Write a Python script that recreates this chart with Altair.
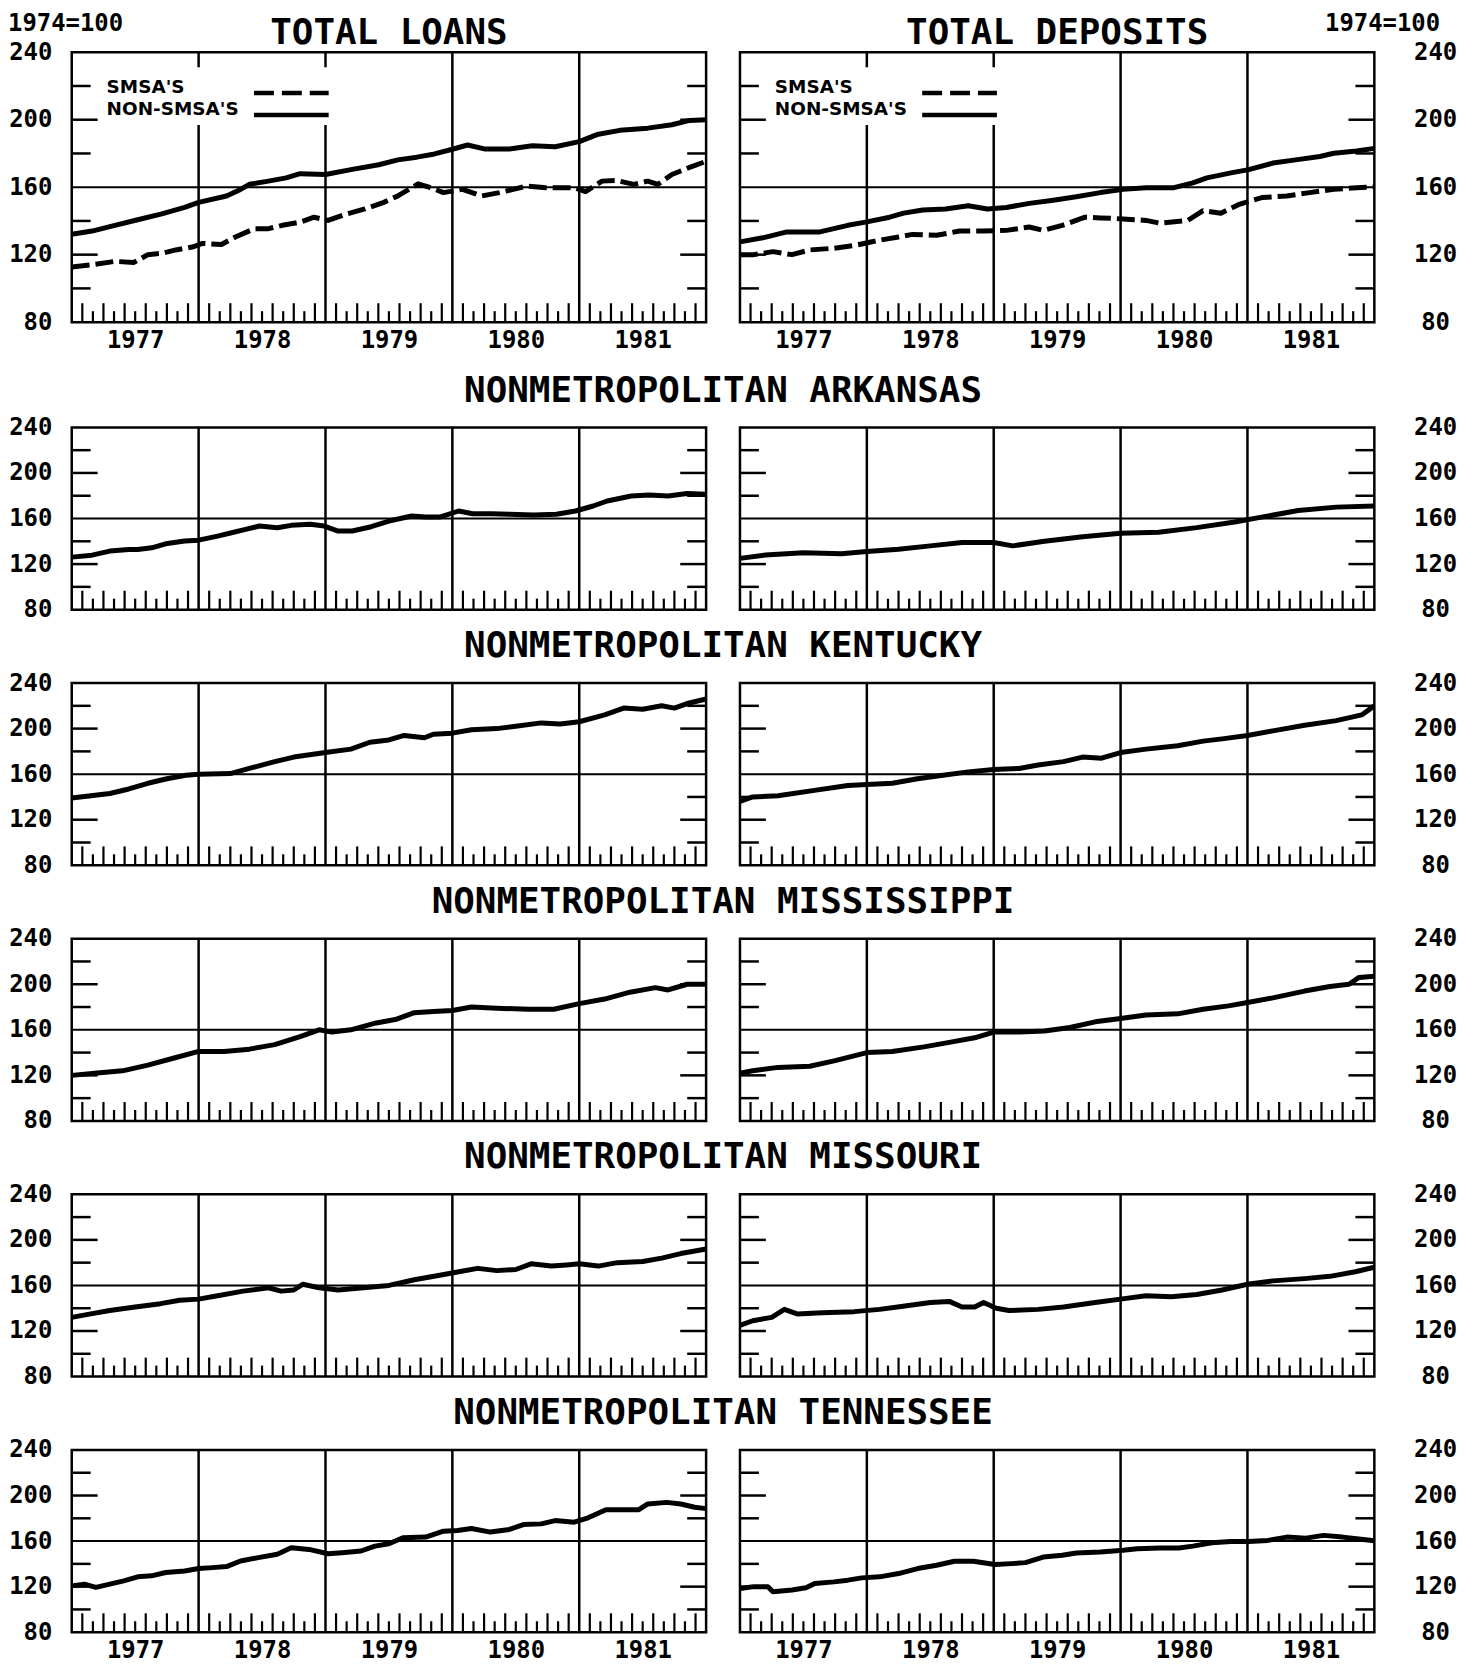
import altair as alt
import pandas as pd

# ------------------------------------------------------------------
# Values (index, 1974 = 100); t = decimal year
# ------------------------------------------------------------------
loans_non_t = [1977.00, 1977.16, 1977.34, 1977.52, 1977.71, 1977.89, 1978.00, 1978.22, 1978.33, 1978.40,
               1978.55, 1978.69, 1978.80, 1979.00, 1979.20, 1979.42, 1979.57, 1979.72, 1979.86, 1980.00,
               1980.12, 1980.26, 1980.45, 1980.63, 1980.81, 1981.00, 1981.14, 1981.32, 1981.54, 1981.73,
               1981.87, 1982.00]
loans_non_v = [132.1, 134, 137.4, 140.7, 144.2, 148, 151, 154.8, 158.7, 161.7,
               163.6, 165.5, 168, 167.5, 170.4, 173.3, 176.2, 177.8, 179.7, 182.5,
               185, 182.6, 182.6, 184.6, 184, 187, 191.2, 193.7, 195, 197,
               199.6, 200]
loans_smsa_t = [1977.00, 1977.16, 1977.34, 1977.49, 1977.60, 1977.71, 1977.82, 1977.96, 1978.03, 1978.18,
                1978.29, 1978.44, 1978.55, 1978.66, 1978.80, 1978.91, 1979.02, 1979.17, 1979.31, 1979.46,
                1979.57, 1979.68, 1979.73, 1979.83, 1979.93, 1980.08, 1980.23, 1980.37, 1980.48, 1980.59,
                1980.74, 1980.96, 1981.05, 1981.18, 1981.29, 1981.43, 1981.54, 1981.62, 1981.73, 1981.87,
                1982.00]
loans_smsa_v = [112.7, 114, 116, 115.4, 120, 120.8, 122.8, 124.7, 126.7, 126,
                130.5, 135.4, 135.4, 137.4, 139.3, 142.2, 140.3, 144.2, 147.1, 151,
                154.8, 159.7, 162, 159.7, 156.8, 158.7, 154.8, 156.8, 158.7, 160.7,
                159.7, 159.7, 157.4, 163.6, 164, 161.7, 163.6, 161.7, 167.5, 171.8,
                175.3]

deps_non_t = [1977.00, 1977.18, 1977.37, 1977.63, 1977.85, 1977.99, 1978.18, 1978.29, 1978.44, 1978.62,
              1978.80, 1978.95, 1979.10, 1979.28, 1979.47, 1979.65, 1979.84, 1980.02, 1980.20, 1980.42,
              1980.57, 1980.68, 1980.87, 1981.01, 1981.20, 1981.38, 1981.57, 1981.68, 1981.86, 1982.00]
deps_non_v = [127.6, 130, 133.5, 133.5, 137.4, 139.3, 142.2, 144.6, 146.5, 147.1,
              149, 147.1, 148, 150.4, 152.3, 154.3, 156.8, 158.7, 159.7, 159.7,
              162.6, 165.5, 168.5, 170.4, 174.3, 176.2, 178.2, 180.1, 181.5, 183]
deps_smsa_t = [1977.00, 1977.11, 1977.26, 1977.41, 1977.55, 1977.74, 1977.92, 1978.10, 1978.25, 1978.36,
               1978.55, 1978.73, 1978.91, 1979.10, 1979.28, 1979.39, 1979.54, 1979.72, 1979.84, 1980.02,
               1980.20, 1980.31, 1980.53, 1980.65, 1980.79, 1980.94, 1981.12, 1981.31, 1981.49, 1981.68,
               1981.86, 1982.00]
deps_smsa_v = [119.9, 120, 121.8, 120, 122.8, 123.8, 125.7, 128.6, 130.5, 132,
               131.5, 134, 134, 134.4, 136.4, 134.4, 137.4, 142.2, 141.8, 141.2,
               140.3, 138.7, 140.3, 146.1, 144.6, 150, 153.9, 154.8, 156.8, 158.7,
               159.7, 160.1]

ark_loans_t = [1977.00, 1977.16, 1977.30, 1977.45, 1977.52, 1977.63, 1977.74, 1977.89, 1978.00, 1978.15,
               1978.26, 1978.37, 1978.48, 1978.62, 1978.73, 1978.88, 1978.99, 1979.10, 1979.21, 1979.36,
               1979.50, 1979.68, 1979.79, 1979.90, 1980.05, 1980.16, 1980.31, 1980.45, 1980.64, 1980.82,
               1980.97, 1981.11, 1981.22, 1981.41, 1981.55, 1981.70, 1981.85, 1982.00]
ark_loans_v = [126.1, 127.8, 131.4, 132.8, 132.8, 134.3, 137.8, 140.2, 141, 144.6,
               147.5, 150.5, 153.4, 151.9, 154, 154.9, 153.4, 149, 149, 152.8,
               157.8, 162.2, 161.3, 161.3, 166.6, 164.2, 164.2, 163.7, 163.1, 163.7,
               166.6, 171, 175.4, 179.8, 180.7, 179.8, 181.9, 181.3]
ark_deps_t = [1977.00, 1977.20, 1977.50, 1977.80, 1978.00, 1978.25, 1978.50, 1978.75, 1979.00, 1979.15,
              1979.40, 1979.70, 1980.00, 1980.30, 1980.60, 1980.90, 1981.10, 1981.40, 1981.70, 1982.00]
ark_deps_v = [125, 128, 130, 129, 131, 133, 136, 139, 139, 136,
              140, 144, 147, 148, 152, 157, 161, 167, 170, 171]

ken_loans_t = [1977.00, 1977.15, 1977.30, 1977.45, 1977.60, 1977.75, 1977.90, 1978.00, 1978.25, 1978.40,
               1978.60, 1978.75, 1979.00, 1979.20, 1979.35, 1979.50, 1979.62, 1979.78, 1979.85, 1980.00,
               1980.15, 1980.35, 1980.50, 1980.70, 1980.85, 1981.00, 1981.20, 1981.35, 1981.50, 1981.65,
               1981.75, 1981.85, 1982.00]
ken_loans_v = [139, 141, 143, 147, 152, 156, 159, 160, 160.5, 165,
               171, 175, 179, 182, 188, 190, 194, 192, 195, 196,
               199, 200, 202, 205, 204, 206, 212, 218, 217, 220,
               218, 222, 226]
ken_deps_t = [1977.00, 1977.10, 1977.30, 1977.60, 1977.85, 1978.00, 1978.20, 1978.40, 1978.60, 1978.80,
              1979.00, 1979.20, 1979.35, 1979.55, 1979.70, 1979.85, 1980.00, 1980.20, 1980.45, 1980.65,
              1980.80, 1981.00, 1981.20, 1981.45, 1981.70, 1981.90, 1982.00]
ken_deps_v = [136, 140, 141, 146, 150, 151, 152, 156, 159, 162,
              164, 165, 168, 171, 175, 174, 179, 182, 185, 189,
              191, 194, 198, 203, 207, 212, 220]

mis_loans_t = [1977.00, 1977.20, 1977.40, 1977.60, 1977.80, 1978.00, 1978.20, 1978.40, 1978.60, 1978.80,
               1978.95, 1979.05, 1979.20, 1979.40, 1979.55, 1979.70, 1979.85, 1980.00, 1980.15, 1980.35,
               1980.60, 1980.80, 1981.00, 1981.20, 1981.40, 1981.60, 1981.70, 1981.85, 1982.00]
mis_loans_v = [120, 122, 124, 129, 135, 141, 141, 143, 147, 154,
               160, 158, 160, 166, 169, 175, 176, 177, 180, 179,
               178, 178, 183, 187, 193, 197, 195, 200, 200]
mis_deps_t = [1977.00, 1977.10, 1977.30, 1977.55, 1977.75, 1978.00, 1978.20, 1978.45, 1978.65, 1978.85,
              1979.00, 1979.20, 1979.40, 1979.60, 1979.80, 1980.00, 1980.20, 1980.45, 1980.65, 1980.85,
              1981.00, 1981.20, 1981.45, 1981.65, 1981.80, 1981.88, 1982.00]
mis_deps_v = [122, 124, 127, 128, 133, 140, 141, 145, 149, 153,
              158, 158, 159, 162, 167, 170, 173, 174, 178, 181,
              184, 188, 194, 198, 200, 206, 207]

mo_loans_t = [1977.00, 1977.15, 1977.30, 1977.50, 1977.70, 1977.85, 1978.00, 1978.15, 1978.35, 1978.55,
              1978.65, 1978.75, 1978.82, 1978.95, 1979.10, 1979.30, 1979.50, 1979.70, 1979.90, 1980.05,
              1980.20, 1980.35, 1980.50, 1980.62, 1980.78, 1980.90, 1981.00, 1981.15, 1981.30, 1981.50,
              1981.65, 1981.80, 1982.00]
mo_loans_v = [132, 135, 138, 141, 144, 147, 148, 151, 155, 158,
              155, 156, 161, 158, 156, 158, 160, 165, 169, 172,
              175, 173, 174, 179, 177, 178, 179, 177, 180, 181,
              184, 188, 192]
mo_deps_t = [1977.00, 1977.10, 1977.25, 1977.35, 1977.45, 1977.65, 1977.90, 1978.10, 1978.30, 1978.50,
             1978.65, 1978.75, 1978.85, 1978.92, 1979.02, 1979.12, 1979.35, 1979.55, 1979.80, 1980.00,
             1980.20, 1980.40, 1980.60, 1980.80, 1981.00, 1981.20, 1981.45, 1981.65, 1981.85, 1982.00]
mo_deps_v = [125, 129, 132, 139, 135, 136, 137, 139, 142, 145,
             146, 141, 141, 145, 140, 138, 139, 141, 145, 148,
             151, 150, 152, 156, 161, 164, 166, 168, 172, 176]

ten_loans_t = [1977.00, 1977.10, 1977.19, 1977.30, 1977.41, 1977.52, 1977.63, 1977.74, 1977.89, 1978.00,
               1978.11, 1978.22, 1978.33, 1978.47, 1978.62, 1978.73, 1978.87, 1979.02, 1979.13, 1979.28,
               1979.39, 1979.50, 1979.61, 1979.79, 1979.93, 1980.04, 1980.15, 1980.30, 1980.45, 1980.56,
               1980.70, 1980.81, 1980.96, 1981.07, 1981.21, 1981.36, 1981.47, 1981.54, 1981.69, 1981.80,
               1981.91, 1982.00]
ten_loans_v = [120.7, 122.2, 119.3, 122.2, 125.1, 128.6, 129.5, 132.4, 133.8, 135.9,
               136.7, 137.6, 142.5, 145.5, 148.4, 154.2, 152.7, 148.9, 149.8, 151.3,
               155.6, 157.7, 162.9, 163.5, 168.7, 169.3, 171.1, 167.9, 170.2, 174.5,
               175.1, 178, 176.6, 180.4, 187.6, 187.6, 187.6, 192.6, 194, 192.6,
               189.7, 188.5]
ten_deps_t = [1977.00, 1977.11, 1977.22, 1977.26, 1977.41, 1977.52, 1977.59, 1977.74, 1977.85, 1977.96,
              1978.10, 1978.25, 1978.40, 1978.55, 1978.69, 1978.84, 1979.01, 1979.14, 1979.25, 1979.39,
              1979.54, 1979.65, 1979.84, 1980.02, 1980.13, 1980.31, 1980.46, 1980.57, 1980.72, 1980.87,
              1981.01, 1981.16, 1981.31, 1981.46, 1981.60, 1981.75, 1981.86, 1982.00]
ten_deps_v = [118.4, 120, 120, 115.5, 117, 119, 122.8, 124.2, 125.7, 127.7,
              128.6, 131.5, 135.9, 138.8, 142.3, 142.3, 139.4, 140.2, 141.1, 146,
              147.5, 149.5, 150.4, 151.9, 153.3, 153.9, 153.9, 155.6, 158.6, 159.7,
              159.7, 160.6, 163.5, 162.6, 165, 163.5, 162, 160.3]

# axis / tick label values
y_labels = [80, 120, 160, 200, 240]
y_ticks_short = [100, 140, 180, 220]
y_ticks_long = [120, 200]
year_lines = [1978, 1979, 1980, 1981]
year_mids = [1977.5, 1978.5, 1979.5, 1980.5, 1981.5]
month_ticks_long = [1977 + k / 12 for k in range(1, 60) if k % 12 != 0 and k % 2 == 1]
month_ticks_short = [1977 + k / 12 for k in range(1, 60) if k % 12 != 0 and k % 2 == 0]

row_titles = ["NONMETROPOLITAN ARKANSAS", "NONMETROPOLITAN KENTUCKY",
              "NONMETROPOLITAN MISSISSIPPI", "NONMETROPOLITAN MISSOURI",
              "NONMETROPOLITAN TENNESSEE"]

# ------------------------------------------------------------------
FONT = "DejaVu Sans Mono"
LEG_FONT = "DejaVu Sans"
W = 637
H_TOP = 271          # frame height, first row
H = 183              # frame height, other rows
ROW_GAP = 73.7       # gap between frames of rows 2..6
TOP_GAP = 105.5      # gap between frame of row 1 and row 2
XS = alt.Scale(domain=[1977, 1982], nice=False, zero=False)


def y_axis(side):
    common = dict(values=y_labels, ticks=False, tickSize=0, domain=False, grid=False,
                  labelFont=FONT, labelFontSize=24, labelFontWeight="bold",
                  labelColor="black", title=None, labelFlush=False, labelOverlap=False)
    if side == "left":
        return alt.Axis(orient="left", labelPadding=20, **common)
    return alt.Axis(orient="right", labelAlign="center", labelPadding=61, **common)


def x_axis(offset):
    return alt.Axis(values=year_mids, labelExpr="floor(datum.value) + ''", ticks=False,
                    tickSize=0, domain=False, grid=False, labelPadding=6, offset=offset,
                    labelFont=FONT, labelFontSize=24, labelFontWeight="bold",
                    labelColor="black", title=None, labelFlush=False, labelOverlap=False)


def panel(series, side, fh, vh, xlabels, legend=False, head=None, row_title=None):
    ys = alt.Scale(domain=[80, 240], range=[fh, 0], nice=False, zero=False)
    xa = x_axis(fh - vh) if xlabels else None
    ya = y_axis(side)

    def X(field="t"):
        return alt.X(f"{field}:Q", scale=XS, axis=xa)

    def Y(field="v"):
        return alt.Y(f"{field}:Q", scale=ys, axis=ya)

    dummy = pd.DataFrame({"k": [0]})
    layers = []
    # 160 reference line
    layers.append(alt.Chart(pd.DataFrame({"v": [160]})).mark_rule(color="black", strokeWidth=2)
                  .encode(y=Y(), x=alt.value(0), x2=alt.value(W)))
    # year separators
    layers.append(alt.Chart(pd.DataFrame({"t": year_lines})).mark_rule(color="black", strokeWidth=2.5)
                  .encode(x=X(), y=alt.value(0), y2=alt.value(fh)))
    # inner y ticks on both edges
    for vals, ln in ((y_ticks_short, 19), (y_ticks_long, 26)):
        d = pd.DataFrame({"v": vals})
        layers.append(alt.Chart(d).mark_rule(color="black", strokeWidth=2.5)
                      .encode(y=Y(), x=alt.value(0), x2=alt.value(ln)))
        layers.append(alt.Chart(d).mark_rule(color="black", strokeWidth=2.5)
                      .encode(y=Y(), x=alt.value(W - ln), x2=alt.value(W)))
    # monthly ticks along the bottom
    for vals, ln in ((month_ticks_short, 11), (month_ticks_long, 19)):
        layers.append(alt.Chart(pd.DataFrame({"t": vals})).mark_rule(color="black", strokeWidth=2.2)
                      .encode(x=X(), y=alt.value(fh), y2=alt.value(fh - ln)))
    if legend:
        layers.append(alt.Chart(dummy).mark_rect(color="white")
                      .encode(x=alt.value(31), x2=alt.value(262), y=alt.value(15), y2=alt.value(73)))
        for txt, yy in (("SMSA'S", 35), ("NON-SMSA'S", 57)):
            layers.append(alt.Chart(dummy).mark_text(text=txt, font=LEG_FONT, fontSize=18.5, fontWeight="bold",
                                                     align="left", baseline="middle", color="black")
                          .encode(x=alt.value(35), y=alt.value(yy)))
        layers.append(alt.Chart(dummy).mark_rule(color="black", strokeWidth=4.5, strokeDash=[20, 8])
                      .encode(x=alt.value(183), x2=alt.value(258), y=alt.value(41)))
        layers.append(alt.Chart(dummy).mark_rule(color="black", strokeWidth=4.5)
                      .encode(x=alt.value(183), x2=alt.value(258), y=alt.value(63)))
    if head is not None:
        title_txt, corner = head
        layers.append(alt.Chart(dummy).mark_text(text=title_txt, font=FONT, fontSize=36, fontWeight="bold",
                                                 align="center", baseline="middle", color="black")
                      .encode(x=alt.value(W / 2), y=alt.value(-19.5)))
        if corner == "left":
            layers.append(alt.Chart(dummy).mark_text(text="1974=100", font=FONT, fontSize=24, fontWeight="bold",
                                                     align="left", baseline="middle", color="black")
                          .encode(x=alt.value(-64), y=alt.value(-28.5)))
        else:
            layers.append(alt.Chart(dummy).mark_text(text="1974=100", font=FONT, fontSize=24, fontWeight="bold",
                                                     align="right", baseline="middle", color="black")
                          .encode(x=alt.value(W + 66), y=alt.value(-28.5)))
    if row_title is not None:
        layers.append(alt.Chart(dummy).mark_text(text=row_title, font=FONT, fontSize=36, fontWeight="bold",
                                                 align="center", baseline="middle", color="black")
                      .encode(x=alt.value(W + 17), y=alt.value(-37)))
    # data lines
    for t, v, dashed in series:
        kw = dict(color="black", strokeWidth=5, strokeJoin="round", clip=True)
        if dashed:
            kw["strokeDash"] = [18, 6]
        layers.append(alt.Chart(pd.DataFrame({"t": t, "v": v})).mark_line(**kw).encode(x=X(), y=Y()))
    # frame
    layers.append(alt.Chart(dummy).mark_rect(filled=False, color="black", strokeWidth=2.5)
                  .encode(x=alt.value(0), x2=alt.value(W), y=alt.value(0), y2=alt.value(fh)))
    return alt.layer(*layers).properties(width=W, height=vh)


VH_TOP = H_TOP + TOP_GAP - ROW_GAP
panels = [
    panel([(loans_non_t, loans_non_v, False), (loans_smsa_t, loans_smsa_v, True)], "left", H_TOP, VH_TOP,
          True, legend=True, head=("TOTAL LOANS", "left")),
    panel([(deps_non_t, deps_non_v, False), (deps_smsa_t, deps_smsa_v, True)], "right", H_TOP, VH_TOP,
          True, legend=True, head=("TOTAL DEPOSITS", "right")),
]
pairs = [
    ((ark_loans_t, ark_loans_v), (ark_deps_t, ark_deps_v)),
    ((ken_loans_t, ken_loans_v), (ken_deps_t, ken_deps_v)),
    ((mis_loans_t, mis_loans_v), (mis_deps_t, mis_deps_v)),
    ((mo_loans_t, mo_loans_v), (mo_deps_t, mo_deps_v)),
    ((ten_loans_t, ten_loans_v), (ten_deps_t, ten_deps_v)),
]
for k, ((lt, lv), (dt, dv)) in enumerate(pairs):
    last = k == len(pairs) - 1
    panels.append(panel([(lt, lv, False)], "left", H, H, last, row_title=row_titles[k]))
    panels.append(panel([(dt, dv, False)], "right", H, H, last))

chart = alt.concat(*panels, columns=2, spacing={"row": ROW_GAP, "column": 34}, bounds="flush").properties(
    padding={"top": 0, "left": 0, "right": 0, "bottom": 0}, background="white"
).configure_view(strokeWidth=0)

chart.save("out.html", embed_options={"renderer": "svg", "actions": False})
